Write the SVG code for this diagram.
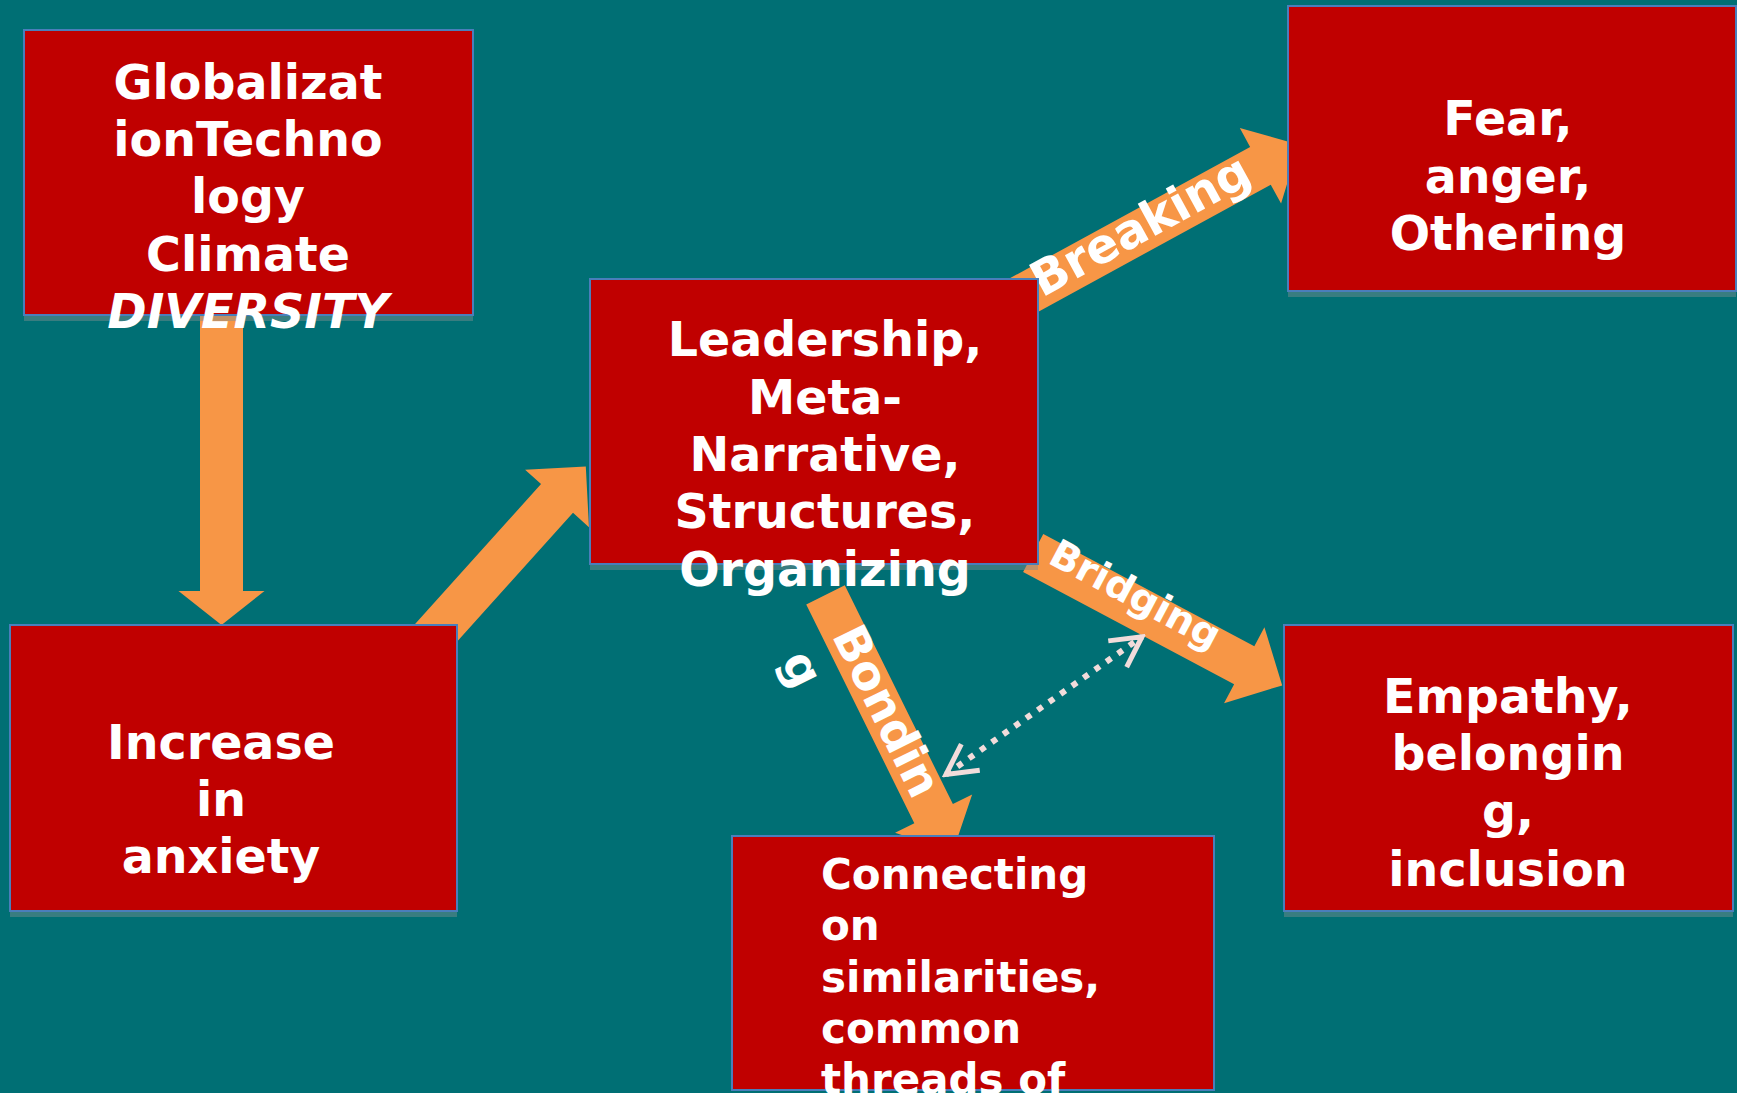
<svg xmlns="http://www.w3.org/2000/svg" width="1737" height="1093" viewBox="0 0 1737 1093">
<defs>
<style>
.box{fill:#c00000;stroke:#4a7ebb;stroke-width:2}
.shadow{fill:#7f8f90;opacity:0.45}
.t{font-family:"DejaVu Sans","Liberation Sans",sans-serif;font-weight:bold;fill:#ffffff;font-size:47.5px}
.s{font-size:42px}
.c{text-anchor:middle}
.arrow{fill:#f79646}
.lbl{font-family:"DejaVu Sans","Liberation Sans",sans-serif;font-weight:bold;fill:#ffffff}
.dot{fill:none;stroke:#f2dcdb;stroke-width:6;stroke-dasharray:6 8}
</style>
<marker id="vhead" viewBox="-36 -20 40 40" refX="0" refY="0" markerWidth="40" markerHeight="40" markerUnits="userSpaceOnUse" orient="auto-start-reverse">
<path d="M-30,-16 L0,0 L-30,16" fill="none" stroke="#f2dcdb" stroke-width="5"/>
</marker>
</defs>
<rect x="0" y="0" width="1737" height="1093" fill="#006f74"/>
<g id="connectors">
<g transform="translate(221.5,300) rotate(90)"><polygon class="arrow" points="0,-21.5 291,-21.5 291,-43 325,0 291,43 291,21.5 0,21.5"/></g>
<g transform="translate(423.2,647.1) rotate(-48)"><polygon class="arrow" points="0,-21.5 200,-21.5 200,-43 243,0 200,43 200,21.5 0,21.5"/></g>
<g transform="translate(997.2,309.7) rotate(-28.66)"><polygon class="arrow" points="0,-21.5 300,-21.5 300,-43 344,0 300,43 300,21.5 0,21.5"/>
<text class="lbl" x="45" y="11" font-size="48">Breaking</text></g>
<g transform="translate(1033.2,553) rotate(28)"><polygon class="arrow" points="0,-21.5 239,-21.5 239,-43 282,0 239,43 239,21.5 0,21.5"/>
<text class="lbl" x="16" y="2" font-size="39">Bridging</text></g>
<g transform="translate(825.5,594.9) rotate(63.7)"><polygon class="arrow" points="0,-21.5 244,-21.5 244,-43 287,0 244,43 244,21.5 0,21.5"/>
<text class="lbl" x="39" y="12.5" font-size="47">Bondin</text>
<text class="lbl" x="39" y="69.5" font-size="47">g</text></g>
<path class="dot" d="M946,774.5 L1142,636.7" marker-start="url(#vhead)" marker-end="url(#vhead)"/>
</g>
<g id="node-drivers">
<rect class="shadow" x="24" y="36" width="449" height="285"/>
<rect class="box" x="24" y="30" width="449" height="285"/>
<text class="t c" x="248" y="99">Globalizat</text>
<text class="t c" x="248" y="156">ionTechno</text>
<text class="t c" x="248" y="213">logy</text>
<text class="t c" x="248" y="271">Climate</text>
<text class="t c" x="248" y="328" font-style="italic">DIVERSITY</text>
</g>
<g id="node-fear">
<rect class="shadow" x="1288" y="12" width="448" height="285"/>
<rect class="box" x="1288" y="6" width="448" height="285"/>
<text class="t c" x="1508" y="135">Fear,</text>
<text class="t c" x="1508" y="193">anger,</text>
<text class="t c" x="1508" y="250">Othering</text>
</g>
<g id="node-leadership">
<rect class="shadow" x="590" y="285" width="448" height="285"/>
<rect class="box" x="590" y="279" width="448" height="285"/>
<text class="t c" x="825" y="356">Leadership,</text>
<text class="t c" x="825" y="414">Meta-</text>
<text class="t c" x="825" y="471">Narrative,</text>
<text class="t c" x="825" y="528">Structures,</text>
<text class="t c" x="825" y="586">Organizing</text>
</g>
<g id="node-anxiety">
<rect class="shadow" x="10" y="631" width="447" height="286"/>
<rect class="box" x="10" y="625" width="447" height="286"/>
<text class="t c" x="221" y="759">Increase</text>
<text class="t c" x="221" y="816">in</text>
<text class="t c" x="221" y="873">anxiety</text>
</g>
<g id="node-empathy">
<rect class="shadow" x="1284" y="631" width="449" height="286"/>
<rect class="box" x="1284" y="625" width="449" height="286"/>
<text class="t c" x="1508" y="713">Empathy,</text>
<text class="t c" x="1508" y="770">belongin</text>
<text class="t c" x="1508" y="828">g,</text>
<text class="t c" x="1508" y="886">inclusion</text>
</g>
<g id="node-connecting">
<rect class="box" x="732" y="836" width="482" height="254"/>
<text class="t s" x="821" y="889">Connecting</text>
<text class="t s" x="821" y="940">on</text>
<text class="t s" x="821" y="992">similarities,</text>
<text class="t s" x="821" y="1043">common</text>
<text class="t s" x="821" y="1094">threads of</text>
</g>
</svg>
